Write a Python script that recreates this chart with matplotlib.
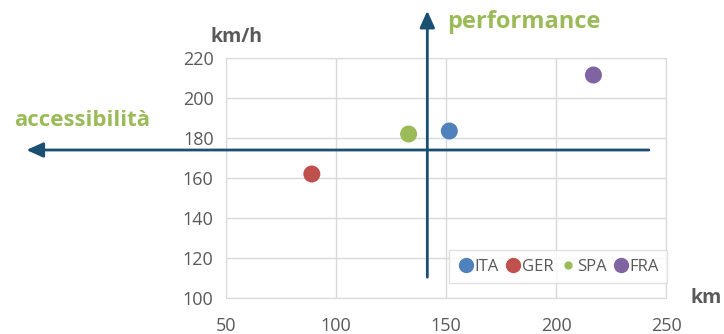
import matplotlib
matplotlib.use("Agg")
import matplotlib.pyplot as plt

# data
countries = ["ITA", "GER", "SPA", "FRA"]
km = [151.5, 89, 133, 217]
kmh = [183.5, 162, 182, 211.5]
colors = ["#4F81BD", "#C0504D", "#9BBB59", "#8064A2"]
sizes = [150, 150, 150, 150]
legend_sizes = [10, 10, 5, 10]

x_ticks = [50, 100, 150, 200, 250]
y_ticks = [100, 120, 140, 160, 180, 200, 220]

# quadrant arrows (data units)
v_arrow_x = 141.5
h_arrow_y = 174

plt.rcParams['font.family'] = ['Open Sans', 'DejaVu Sans']

fig = plt.figure(figsize=(7.24, 3.34), dpi=100)
ax = fig.add_axes([0.3122, 0.1078, 0.6077, 0.7185])

for name, x, y, c, s in zip(countries, km, kmh, colors, sizes):
    ax.scatter(x, y, s=s, color=c, label=name, zorder=4, edgecolors='none')

ax.set_xlim(50, 250)
ax.set_ylim(100, 220)
ax.set_xticks(x_ticks)
ax.set_yticks(y_ticks)
ax.grid(True, color='#D9D9D9', linewidth=1)
ax.set_axisbelow(True)
for sp in ax.spines.values():
    sp.set_color('#D9D9D9')
ax.tick_params(length=0, labelsize=13, labelcolor='#595959')
ax.tick_params(axis='x', pad=14)
ax.tick_params(axis='y', pad=9)

arrow_col = '#1B4F72'
# vertical arrow: performance
ax.annotate('', xy=(v_arrow_x, 245), xytext=(v_arrow_x, 109),
            arrowprops=dict(arrowstyle='-|>,head_length=1.0,head_width=0.45',
                            color=arrow_col, lw=2),
            annotation_clip=False, zorder=5)
# horizontal arrow: accessibilita
ax.annotate('', xy=(-42, h_arrow_y), xytext=(243.5, h_arrow_y),
            arrowprops=dict(arrowstyle='-|>,head_length=1.0,head_width=0.45',
                            color=arrow_col, lw=2),
            annotation_clip=False, zorder=5)

green = '#9BBB59'
fig.text(447 / 724, 1 - 22 / 334, 'performance', color=green, fontsize=17,
         fontweight='bold', va='center', ha='left')
fig.text(14 / 724, 1 - 121 / 334, 'accessibilità', color=green, fontsize=16,
         fontweight='bold', va='center', ha='left')
fig.text(211 / 724, 1 - 37 / 334, 'km/h', color='#595959', fontsize=14,
         fontweight='bold', va='center', ha='left')
fig.text(690 / 724, 1 - 298 / 334, 'km', color='#595959', fontsize=14,
         fontweight='bold', va='center', ha='left')

handles = [plt.Line2D([], [], marker='o', linestyle='none', color=c,
                      markersize=ms) for c, ms in zip(colors, legend_sizes)]
leg = ax.legend(handles, countries, loc='lower right', ncol=4,
                bbox_to_anchor=(1.003, 0.0625), borderaxespad=0,
                frameon=True, fancybox=False,
                fontsize=12, handletextpad=0.0, columnspacing=0.4,
                handlelength=1.0, borderpad=0.5)
leg.get_frame().set_edgecolor('#D9D9D9')
for t in leg.get_texts():
    t.set_color('#595959')

fig.savefig('out.png', dpi=100)
